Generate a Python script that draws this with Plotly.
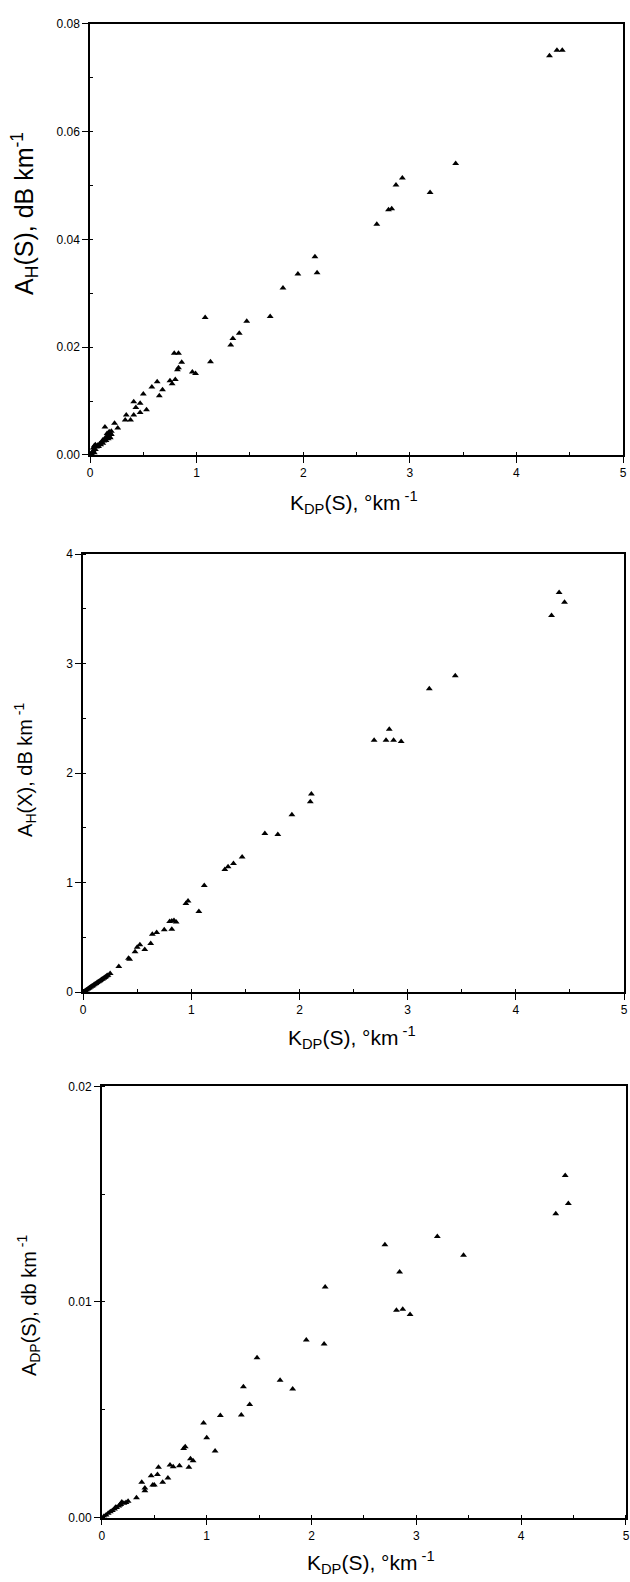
import plotly.graph_objects as go

W, H = 630, 1582

# Panel 1: A_H(S) vs K_DP(S)
kdp_a = [4.31, 4.38, 4.43, 3.43, 2.93, 2.87, 3.19, 2.80, 2.83, 2.69, 2.11, 2.13, 1.95, 1.81,
         1.08, 1.69, 1.47, 1.40, 1.34, 1.32, 1.13, 0.79, 0.83, 0.86, 0.83, 0.82, 0.96, 0.99,
         0.75, 0.80, 0.77, 0.63, 0.58, 0.68, 0.65, 0.50, 0.41, 0.47, 0.43, 0.47, 0.53, 0.41,
         0.34, 0.33, 0.38, 0.23, 0.26, 0.14,
         0.01, 0.02, 0.03, 0.03, 0.04, 0.05, 0.05, 0.06, 0.07, 0.08, 0.09, 0.10, 0.11, 0.12,
         0.12, 0.13, 0.14, 0.15, 0.16, 0.17, 0.17, 0.18, 0.19, 0.19, 0.20, 0.20, 0.18, 0.16,
         0.02, 0.04]
ah_s = [0.0741, 0.0751, 0.0751, 0.0541, 0.0514, 0.0501, 0.0487, 0.0455, 0.0457, 0.0428, 0.0368,
        0.0338, 0.0336, 0.0310, 0.0255, 0.0257, 0.0248, 0.0226, 0.0216, 0.0204, 0.0173, 0.0189,
        0.0189, 0.0172, 0.0162, 0.0158, 0.0154, 0.0151, 0.0138, 0.0140, 0.0132, 0.0136, 0.0126,
        0.0121, 0.0110, 0.0113, 0.0099, 0.0096, 0.0088, 0.0079, 0.0084, 0.0074, 0.0074, 0.0065,
        0.0065, 0.0059, 0.0050, 0.0052,
        0.0002, 0.0005, 0.0008, 0.0013, 0.0017, 0.0010, 0.0019, 0.0015, 0.0018, 0.0016, 0.0021,
        0.0019, 0.0024, 0.0022, 0.0028, 0.0026, 0.0031, 0.0027, 0.0034, 0.0030, 0.0038, 0.0035,
        0.0041, 0.0032, 0.0038, 0.0044, 0.0043, 0.0040, 0.0001, 0.0004]

# Panel 2: A_H(X) vs K_DP(S)
kdp_b = [4.33, 4.40, 4.45, 3.44, 3.20, 2.83, 2.69, 2.80, 2.87, 2.94, 2.11, 2.10, 1.93, 1.68,
         1.80, 1.47, 1.39, 1.34, 1.31, 1.12, 0.97, 0.95, 1.07, 0.80, 0.82, 0.84, 0.86, 0.82,
         0.75, 0.68, 0.64, 0.625, 0.57, 0.525, 0.50, 0.48, 0.42, 0.43, 0.33, 0.25,
         0.01, 0.02, 0.03, 0.04, 0.05, 0.06, 0.07, 0.08, 0.09, 0.10, 0.11, 0.12, 0.13, 0.14,
         0.15, 0.16, 0.17, 0.18, 0.19, 0.20, 0.21, 0.22, 0.23]
ah_x = [3.44, 3.65, 3.56, 2.89, 2.77, 2.40, 2.30, 2.30, 2.30, 2.29, 1.81, 1.74, 1.62, 1.45,
        1.44, 1.235, 1.175, 1.145, 1.12, 0.975, 0.833, 0.81, 0.736, 0.645, 0.65, 0.655, 0.64,
        0.575, 0.57, 0.545, 0.53, 0.445, 0.39, 0.433, 0.41, 0.37, 0.31, 0.30, 0.235, 0.17,
        0.007, 0.014, 0.020, 0.028, 0.034, 0.041, 0.048, 0.055, 0.060, 0.068, 0.075, 0.080,
        0.088, 0.095, 0.100, 0.108, 0.115, 0.120, 0.128, 0.135, 0.142, 0.150, 0.155]

# Panel 3: A_DP(S) vs K_DP(S)
kdp_c = [4.42, 4.45, 4.33, 3.20, 3.45, 2.70, 2.84, 2.13, 2.81, 2.87, 2.94, 1.95, 2.12, 1.48,
         1.70, 1.82, 1.35, 1.41, 1.13, 1.33, 0.97, 1.00, 1.08, 0.795, 0.78, 0.83, 0.845, 0.87,
         0.74, 0.68, 0.65, 0.54, 0.53, 0.47, 0.50, 0.58, 0.63, 0.38, 0.41, 0.41, 0.485, 0.33,
         0.02, 0.04, 0.06, 0.08, 0.10, 0.12, 0.14, 0.16, 0.18, 0.19, 0.21, 0.23, 0.25, 0.17, 0.13]
adp_s = [0.01587, 0.01457, 0.01409, 0.01304, 0.01216, 0.01265, 0.01139, 0.01069, 0.00961,
         0.00966, 0.00942, 0.00824, 0.00805, 0.00741, 0.00637, 0.00596, 0.00606, 0.00524,
         0.00473, 0.00475, 0.00438, 0.00370, 0.00308, 0.00328, 0.00320, 0.00233, 0.00273,
         0.00263, 0.00240, 0.00236, 0.00244, 0.00233, 0.00200, 0.00194, 0.00151, 0.00163,
         0.00183, 0.00163, 0.00137, 0.00124, 0.00151, 0.00092,
         0.00006, 0.00012, 0.00020, 0.00027, 0.00033, 0.00040, 0.00046, 0.00053, 0.00060,
         0.00072, 0.00066, 0.00070, 0.00076, 0.00058, 0.00048]

x_ticks = [0, 1, 2, 3, 4, 5]
y_ticks_a = [0.00, 0.02, 0.04, 0.06, 0.08]
y_ticks_b = [0, 1, 2, 3, 4]
y_ticks_c = [0.00, 0.01, 0.02]

FONT = "Liberation Sans, Arial, sans-serif"

def px_x(p):
    return p / W

def px_y(p):
    return 1 - p / H

panels = [
    dict(x=kdp_a, y=ah_s, xd=(88, 627), yd=(17, 452), yr=[0, 0.08], yt=y_ticks_a, fmt=".2f",
         ydt=0.01, ytitle="A<sub>H</sub>(S), dB km<sup>-1</sup>", yts=25, ytx=22, yty=208,
         xtx=355, xty=500),
    dict(x=kdp_b, y=ah_x, xd=(81, 628), yd=(552, 994), yr=[0, 4], yt=y_ticks_b, fmt="d",
         ydt=0.5, ytitle="A<sub>H</sub>(X), dB km<sup> -1</sup>", yts=20, ytx=22, yty=770,
         xtx=353, xty=1040),
    dict(x=kdp_c, y=adp_s, xd=(100, 630), yd=(1089, 1524), yr=[0, 0.02], yt=y_ticks_c, fmt=".2f",
         ydt=0.005, ytitle="A<sub>DP</sub>(S), db km<sup> -1</sup>", yts=20, ytx=26, yty=1310,
         xtx=372, xty=1569),
]

fig = go.Figure()
annotations = []
for i, p in enumerate(panels):
    n = "" if i == 0 else str(i + 1)
    fig.add_trace(go.Scatter(
        x=p["x"], y=p["y"], mode="markers", xaxis="x" + n, yaxis="y" + n,
        marker=dict(symbol="triangle-up", size=6, color="black", line=dict(width=0)),
        showlegend=False, hoverinfo="x+y"))
    common = dict(showline=True, linecolor="black", linewidth=1.6, mirror=True,
                  showgrid=False, zeroline=False, ticks="outside", ticklen=6, tickwidth=1.3,
                  tickcolor="black", tickfont=dict(family=FONT, size=12, color="black"))
    fig.layout["xaxis" + n] = dict(
        domain=[px_x(p["xd"][0]), px_x(p["xd"][1])], range=[0, 5], anchor="y" + n,
        tickvals=x_ticks, ticktext=[str(v) for v in x_ticks],
        minor=dict(dtick=0.5, ticks="inside", ticklen=3, tickcolor="black"), **common)
    fig.layout["yaxis" + n] = dict(
        domain=[px_y(p["yd"][1]), px_y(p["yd"][0])], range=p["yr"], anchor="x" + n,
        tickvals=p["yt"], tickformat=p["fmt"],
        minor=dict(dtick=p["ydt"], ticks="inside", ticklen=3, tickcolor="black"), **common)
    annotations.append(dict(
        x=px_x(p["xtx"]), y=px_y(p["xty"]), xref="paper", yref="paper", showarrow=False,
        text="K<sub>DP</sub>(S), °km<sup> -1</sup>", xanchor="center", yanchor="middle",
        font=dict(family=FONT, size=21, color="black")))
    annotations.append(dict(
        x=px_x(p["ytx"]), y=px_y(p["yty"]), xref="paper", yref="paper", showarrow=False,
        text=p["ytitle"], textangle=-90, xanchor="center", yanchor="middle",
        font=dict(family=FONT, size=p["yts"], color="black")))

fig.update_layout(
    width=W, height=H, margin=dict(l=0, r=0, t=0, b=0),
    paper_bgcolor="white", plot_bgcolor="white", annotations=annotations,
    font=dict(family=FONT, color="black"))

fig.write_html("out.html", config={"displayModeBar": False},
               post_script="document.body.style.margin='0';document.body.style.overflow='hidden';")
